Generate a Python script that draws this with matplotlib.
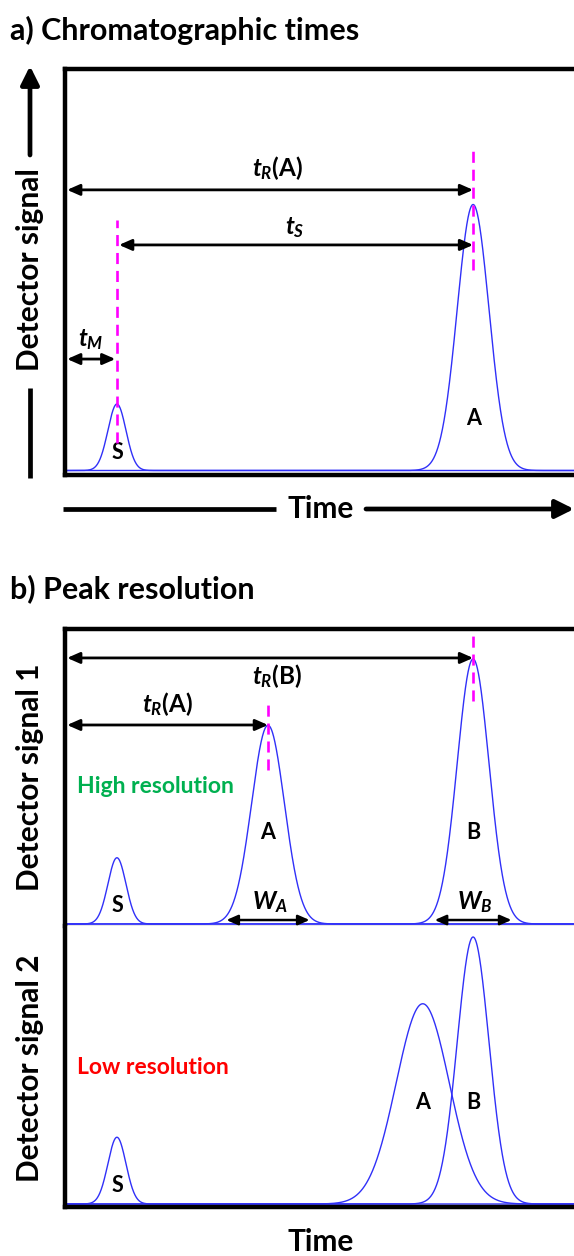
import numpy as np
import matplotlib
matplotlib.use('Agg')
import matplotlib.pyplot as plt

plt.rcParams['font.family'] = ['Lato', 'DejaVu Sans']
plt.rcParams['font.weight'] = 'bold'
plt.rcParams['mathtext.fontset'] = 'custom'
plt.rcParams['mathtext.it'] = 'Lato:italic:bold'
plt.rcParams['mathtext.rm'] = 'Lato:bold'
plt.rcParams['mathtext.bf'] = 'Lato:bold'

# ---------------- data ----------------
# a) chromatographic times
names_a = ['S', 'A']
times_a = [0.98, 7.70]
heights_a = [0.25, 1.00]
sigmas_a = [0.17, 0.30]

# b) high resolution (detector signal 1)
names_b1 = ['S', 'A', 'B']
times_b1 = [0.98, 3.83, 7.70]
heights_b1 = [0.25, 0.75, 1.00]
sigmas_b1 = [0.17, 0.31, 0.30]
base_widths_b1 = [0.0, 1.57, 1.45]   # W_A, W_B

# b) low resolution (detector signal 2)
names_b2 = ['S', 'A', 'B']
times_b2 = [0.98, 6.75, 7.70]
heights_b2 = [0.25, 0.75, 1.00]
sigmas_b2 = [0.17, 0.50, 0.30]

# ---------------- layout ----------------
W, H = 574, 1256
fig = plt.figure(figsize=(W / 100, H / 100), dpi=100)
PXU = 53.0          # pixels per time unit
RIGHT = 603         # axes extend past the right edge

BLUE = '#3030F8'
MAG = '#FF00FF'
SPINE_LW = 3.2


def add_ax(left, top, bottom, right=RIGHT):
    return fig.add_axes([left / W, 1 - bottom / H, (right - left) / W, (bottom - top) / H])


t = np.linspace(0, (RIGHT - 65) / PXU, 3000)


def gauss(tc, h, s):
    return h * np.exp(-0.5 * ((t - tc) / s) ** 2)


def style(ax, bottom_grey=False, top_on=True):
    ax.set_xticks([])
    ax.set_yticks([])
    ax.set_xlim(0, (RIGHT - 65) / PXU)
    for sp in ax.spines.values():
        sp.set_linewidth(SPINE_LW)
        sp.set_color('black')
    ax.spines['right'].set_visible(False)
    if not top_on:
        ax.spines['top'].set_visible(False)
    if bottom_grey:
        ax.spines['bottom'].set_linewidth(1.0)
        ax.spines['bottom'].set_color('#888888')


def darrow(ax, x1, x2, y, lw=2.0, ms=10):
    ax.annotate('', xy=(x2, y), xytext=(x1, y), annotation_clip=False,
                arrowprops=dict(arrowstyle='<|-|>,head_length=0.75,head_width=0.33',
                                lw=lw, color='black', shrinkA=0, shrinkB=0,
                                mutation_scale=ms))


def vdash(ax, x, y1, y2):
    ax.plot([x, x], [y1, y2], color=MAG, lw=1.9, dashes=(4.2, 2.6), zorder=4)


LBL = 15.5
TLBL = 17.5

# ---------------- panel a ----------------
axa = add_ax(65, 69, 475)
style(axa)
axa.set_ylim(-(475 - 470.5) / 266, (470.5 - 69) / 266)
for tc, h, s in zip(times_a, heights_a, sigmas_a):
    axa.plot(t, gauss(tc, h, s), color=BLUE, lw=1.0)
vdash(axa, times_a[1], 0.754, 1.22)
vdash(axa, times_a[0], 0.103, 0.94)
darrow(axa, 0.04, times_a[1], 1.055)
darrow(axa, times_a[0] + 0.04, times_a[1], 0.848)
darrow(axa, 0.04, times_a[0] - 0.03, 0.419)
axa.text(4.0, 1.137, r'$t_R$(A)', ha='center', va='center', fontsize=TLBL)
axa.text(4.34, 0.912, r'$t_S$', ha='center', va='center', fontsize=TLBL)
axa.text(0.49, 0.494, r'$t_M$', ha='center', va='center', fontsize=TLBL)
axa.text(times_a[0], 0.066, names_a[0], ha='center', va='center', fontsize=LBL)
axa.text(times_a[1], 0.197, names_a[1], ha='center', va='center', fontsize=LBL)

# ---------------- panel b top ----------------
axb1 = add_ax(65, 629, 926)
style(axb1, bottom_grey=True)
axb1.set_ylim(-(926 - 924) / 265, (924 - 629) / 265)
for tc, h, s in zip(times_b1, heights_b1, sigmas_b1):
    axb1.plot(t, gauss(tc, h, s), color=BLUE, lw=1.0)
vdash(axb1, times_b1[2], 0.84, 1.094)
vdash(axb1, times_b1[1], 0.58, 0.84)
darrow(axb1, 0.04, times_b1[2], 1.004)
darrow(axb1, 0.04, times_b1[1], 0.751)
axb1.text(4.0, 0.936, r'$t_R$(B)', ha='center', va='center', fontsize=TLBL)
axb1.text(1.94, 0.83, r'$t_R$(A)', ha='center', va='center', fontsize=TLBL)
axb1.text(0.22, 0.52, 'High resolution', ha='left', va='center', fontsize=16.5, color='#00B050')
for nm, tc in zip(names_b1[1:], times_b1[1:]):
    axb1.text(tc, 0.347, nm, ha='center', va='center', fontsize=LBL)
axb1.text(times_b1[0], 0.068, names_b1[0], ha='center', va='center', fontsize=LBL)
for nm, tc, wb in zip(names_b1[1:], times_b1[1:], base_widths_b1[1:]):
    darrow(axb1, tc - wb / 2, tc + wb / 2, 0.015, lw=1.8, ms=9)
    axb1.text(tc + 0.03, 0.083, r'$W_%s$' % nm, ha='center', va='center', fontsize=TLBL)

# ---------------- panel b bottom ----------------
axb2 = add_ax(65, 926, 1207)
style(axb2, top_on=False)
axb2.set_ylim(-(1207 - 1204) / 267, (1204 - 926) / 267)
for tc, h, s in zip(times_b2, heights_b2, sigmas_b2):
    axb2.plot(t, gauss(tc, h, s), color=BLUE, lw=1.0)
axb2.text(0.22, 0.51, 'Low resolution', ha='left', va='center', fontsize=16.5, color='#FF0000')
axb2.text(times_b2[1], 0.38, names_b2[1], ha='center', va='center', fontsize=LBL)
axb2.text(times_b2[2], 0.38, names_b2[2], ha='center', va='center', fontsize=LBL)
axb2.text(times_b2[0], 0.071, names_b2[0], ha='center', va='center', fontsize=LBL)

# ---------------- overlay (pixel coords, y down) ----------------
ov = fig.add_axes([0, 0, 1, 1])
ov.set_xlim(0, W)
ov.set_ylim(H, 0)
ov.axis('off')

BIG = 21.5
ov.text(10, 30, 'a) Chromatographic times', ha='left', va='center', fontsize=22)
ov.text(10, 589, 'b) Peak resolution', ha='left', va='center', fontsize=22)

# y arrow panel a
ov.plot([30, 30], [388, 478], color='black', lw=3.4, solid_capstyle='butt')
ov.annotate('', xy=(30, 66), xytext=(30, 155), annotation_clip=False,
            arrowprops=dict(arrowstyle='-|>,head_length=1.1,head_width=0.55', lw=3.4,
                            color='black', shrinkA=0, shrinkB=0, mutation_scale=10))
ov.text(30, 270, 'Detector signal', rotation=90, ha='center', va='center', fontsize=BIG)

# time arrow panel a
ov.plot([63, 276], [509, 509], color='black', lw=3.4, solid_capstyle='butt')
ov.annotate('', xy=(574, 509), xytext=(366, 509), annotation_clip=False,
            arrowprops=dict(arrowstyle='-|>,head_length=1.1,head_width=0.55', lw=3.4,
                            color='black', shrinkA=0, shrinkB=0, mutation_scale=10))
ov.text(321, 509, 'Time', ha='center', va='center', fontsize=BIG)

ov.text(30, 777, 'Detector signal 1', rotation=90, ha='center', va='center', fontsize=BIG)
ov.text(30, 1068, 'Detector signal 2', rotation=90, ha='center', va='center', fontsize=BIG)
ov.text(321, 1242, 'Time', ha='center', va='center', fontsize=BIG)

fig.savefig('out.png', dpi=100)
